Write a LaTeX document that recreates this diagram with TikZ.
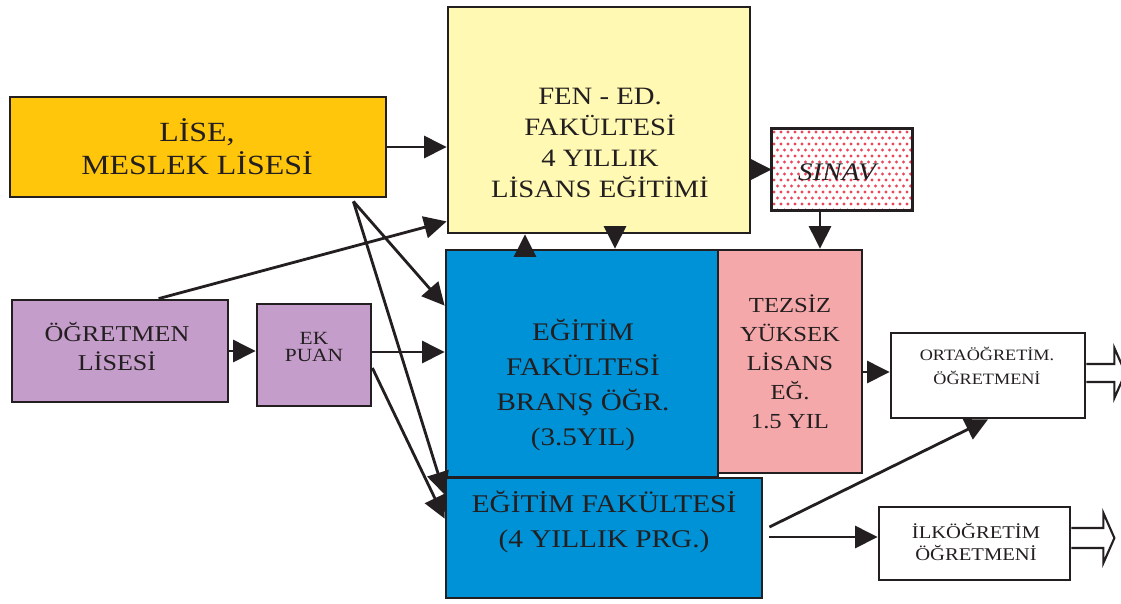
\documentclass[tikz,border=0pt]{standalone}
\usepackage{fontspec}
\setmainfont{Liberation Serif}[FakeStretch=1.15]
\usetikzlibrary{calc}
\usetikzlibrary{arrows.meta,positioning}
\definecolor{ink}{HTML}{231F20}
\definecolor{lisegold}{HTML}{FFC60B}
\definecolor{fenyellow}{HTML}{FFF9B3}
\definecolor{egtblue}{HTML}{0092D7}
\definecolor{tezpink}{HTML}{F4A8AA}
\definecolor{ogrpurple}{HTML}{C59DCA}
\definecolor{dotred}{HTML}{EC4658}
\newcommand{\fsz}[2]{\fontsize{#1}{#2}\selectfont}

\begin{document}
\begin{tikzpicture}[x=0.02cm, y=-0.02cm,
     box/.style = {draw=ink, line width=1.6pt, rectangle, inner sep=0pt},
     txt/.style = {align=center, text=ink, inner sep=0pt},
     arrow/.style = {draw=ink, line width=1.6pt, -{Triangle[length=0.45cm, width=0.44cm]}},
     hollow/.style = {draw=ink, line width=1.2pt, fill=white, line join=miter}
    ]
    \useasboundingbox (0,0) rectangle (1121,603);

    % boxes
    \node [box, fill=lisegold, minimum width=7.52cm, minimum height=2cm] (lise) at (198,147) {};
    \node [box, fill=fenyellow, minimum width=6.04cm, minimum height=4.52cm] (fen) at (599,120) {};
    \node [box, draw=none, fill=white, minimum width=2.76cm, minimum height=1.58cm] (sinav) at (842,169.5) {};
    \node [box, fill=egtblue, minimum width=5.44cm, minimum height=4.54cm] (brans) at (582,363.5) {};
    \node [box, fill=tezpink, minimum width=2.88cm, minimum height=4.46cm] (tezsiz) at (790,361.5) {};
    \node [box, fill=ogrpurple, minimum width=4.32cm, minimum height=2.04cm] (ogrlise) at (120,351) {};
    \node [box, fill=ogrpurple, minimum width=2.28cm, minimum height=2.04cm] (ekpuan) at (314,355) {};
    \node [box, fill=egtblue, minimum width=6.32cm, minimum height=2.4cm] (ef4) at (604,538) {};
    \node [box, fill=white, minimum width=3.88cm, minimum height=1.7cm] (orta) at (988,375.5) {};
    \node [box, fill=white, minimum width=3.82cm, minimum height=1.46cm] (ilk) at (974.5,543.5) {};

    % dotted exam box
    \begin{scope}
      \clip (sinav.north west) rectangle (sinav.south east);
      \foreach \j in {0,...,13}
        \foreach \i in {0,...,20}
          \fill[dotred] ({774+7*\i+3.5*mod(\j,2)},{132+6*\j}) circle [radius=0.95pt];
    \end{scope}
    \draw[box] (sinav.north west) rectangle (sinav.south east);

    % texts
    \node [txt, font=\fsz{15.8}{18.8}] (lise-t) at (197,147) {LİSE,\\MESLEK LİSESİ};
    \node [txt, font=\fsz{14.2}{17.6}] (fen-t) at (600,143) {FEN - ED.\\FAKÜLTESİ\\4 YILLIK\\LİSANS EĞİTİMİ};
    \node [txt, font=\fsz{14.4}{17}\itshape] (sinav-t) at (837,172) {SINAV};
    \node [txt, font=\fsz{14.4}{20}] (brans-t) at (583,385) {EĞİTİM\\FAKÜLTESİ\\BRANŞ ÖĞR.\\(3.5YIL)};
    \node [txt, font=\fsz{12.2}{16.5}] (tezsiz-t) at (790,362) {TEZSİZ\\YÜKSEK\\LİSANS\\EĞ.\\1.5 YIL};
    \node [txt, font=\fsz{12.9}{16.5}] (ogrlise-t) at (117,347) {ÖĞRETMEN\\LİSESİ};
    \node [txt, font=\fsz{10.6}{9.6}] (ekpuan-t) at (314,347) {EK\\PUAN};
    \node [txt, font=\fsz{14.5}{20}] (ef4-t) at (604,522) {EĞİTİM FAKÜLTESİ\\(4 YILLIK PRG.)};
    \node [txt, font=\fsz{9}{13.7}] (orta-t) at (987,366) {ORTAÖĞRETİM.\\ÖĞRETMENİ};
    \node [txt, font=\fsz{10.2}{13}] (ilk-t) at (976,542) {İLKÖĞRETİM\\ÖĞRETMENİ};

    % connectors
    \draw[arrow] (lise) -- (lise -| fen.west);
    \draw[arrow] ($(lise.south east)+(-34,3)$) -- ($(brans.north west)+(0,57)$);
    \draw[arrow] ($(lise.south east)+(-34,3)$) -- ($(ef4.north west)+(0,18)$);
    \draw[arrow] ($(ogrlise.north west)+(148,0)$) -- ($(fen.south west)+(0,-13)$);
    \draw[arrow] (ogrlise) -- (ogrlise -| ekpuan.west);
    \draw[arrow] ($(ekpuan.east)+(0,-3)$) -- ($(ekpuan.east -| brans.west)+(0,-3)$);
    \draw[arrow] ($(ekpuan.east)+(0,13)$) -- ($(ef4.north west)+(0,42)$);
    \draw[arrow] (brans.north -| 525,0) -- (fen.south -| 525,0);
    \draw[arrow] (fen.south -| 615,0) -- (brans.north -| 615,0);
    \draw[arrow] (sinav -| fen.east) -- (sinav);
    \draw[arrow] (sinav.south -| 820,0) -- (tezsiz.north -| 820,0);
    \draw[arrow] (tezsiz.east |- 0,372) -- (orta.west |- 0,372);
    \draw[arrow] ($(ef4.east)+(6,-11)$) -- (orta.south);
    \draw[arrow] ($(ef4.east)+(6,-1)$) -- ($(ef4.east -| ilk.west)+(0,-1)$);

    % outgoing hollow arrows
    \draw[hollow] ($(orta.east)+(0,-11.5)$) -- ++(28,0) -- ++(0,-16) -- ++(11,25) -- ++(-11,25) -- ++(0,-16) -- ++(-28,0);
    \draw[hollow] ($(ilk.east)+(0,-15.5)$) -- ++(32,0) -- ++(0,-15) -- ++(11,25) -- ++(-11,25) -- ++(0,-15) -- ++(-32,0);
\end{tikzpicture}
\end{document}
